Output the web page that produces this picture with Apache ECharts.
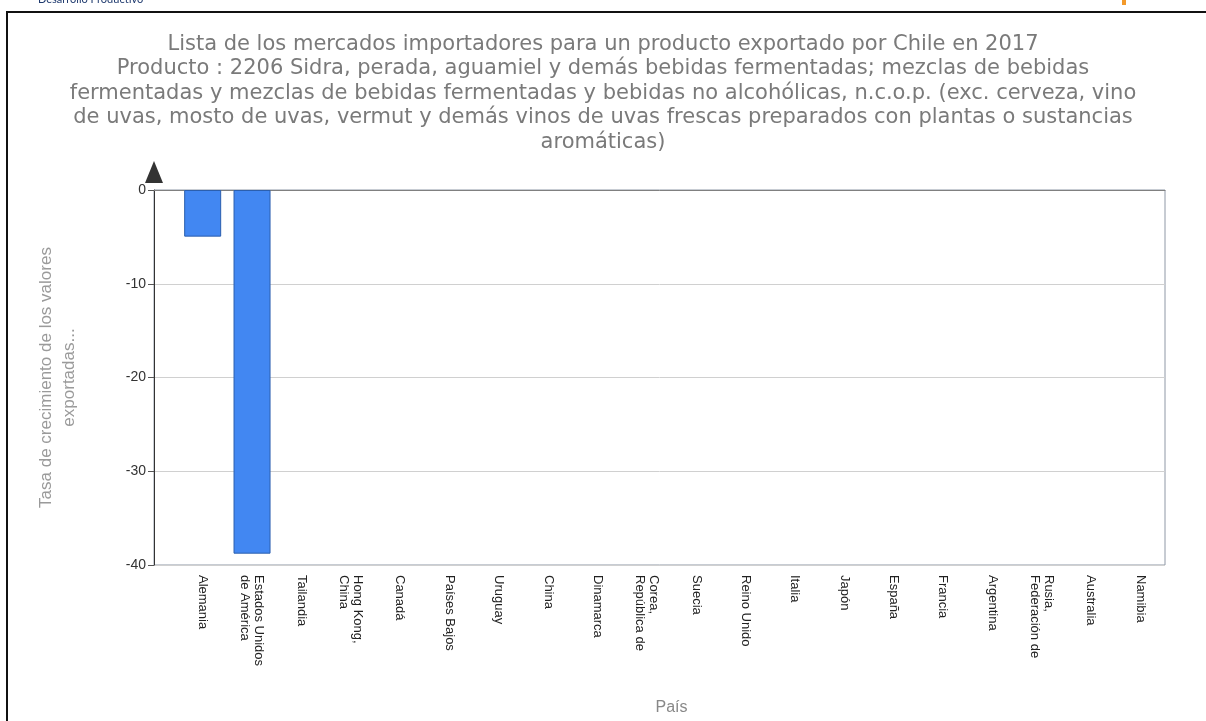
<!DOCTYPE html>
<html>
<head>
<meta charset="utf-8">
<script src="https://cdn.jsdelivr.net/npm/echarts@6/dist/echarts.min.js"></script>
<style>
  html, body { margin: 0; padding: 0; background: #fff; overflow: hidden; }
  #frame { position: absolute; left: 6px; top: 11px; width: 1300px; height: 800px; border: 2px solid #111; box-sizing: border-box; }
  #chart { position: absolute; left: 0; top: 0; width: 1206px; height: 721px; }
</style>
</head>
<body>
<div id="frame"></div>
<div id="chart"></div>
<script>
const titleLines = [
  "Lista de los mercados importadores para un producto exportado por Chile en 2017",
  "Producto : 2206 Sidra, perada, aguamiel y demás bebidas fermentadas; mezclas de bebidas",
  "fermentadas y mezclas de bebidas fermentadas y bebidas no alcohólicas, n.c.o.p. (exc. cerveza, vino",
  "de uvas, mosto de uvas, vermut y demás vinos de uvas frescas preparados con plantas o sustancias",
  "aromáticas)"
];
const categories = [
  "Alemania", "Estados Unidos\nde América", "Tailandia", "Hong Kong,\nChina", "Canadá",
  "Países Bajos", "Uruguay", "China", "Dinamarca", "Corea,\nRepública de",
  "Suecia", "Reino Unido", "Italia", "Japón", "España",
  "Francia", "Argentina", "Rusia,\nFederación de", "Australia", "Namibia"
];
const growthValues = [-5, -39, null, null, null, null, null, null, null, null,
                      null, null, null, null, null, null, null, null, null, null];
const yAxisName = "Tasa de crecimiento de los valores\nexportadas...";
const xAxisName = "País";

const chart = echarts.init(document.getElementById('chart'), null, { renderer: 'canvas' });
chart.setOption({
  backgroundColor: 'transparent',
  animation: false,
  title: {
    text: titleLines.join('\n'),
    left: 'center',
    top: 27,
    textStyle: {
      fontFamily: 'DejaVu Sans',
      fontSize: 21,
      fontWeight: 'normal',
      color: '#7a7a7a',
      lineHeight: 24.5
    }
  },
  graphic: [
    { type: 'text', left: 38, top: -6, style: { text: 'Desarrollo Productivo', font: '11px Lato', fill: '#1f3a6e' } },
    { type: 'rect', left: 1122, top: 0, shape: { width: 4, height: 5 }, style: { fill: '#f39a2b' } }
  ],
  grid: [
    { left: 154, right: 41, top: 190, bottom: 156,
      show: true, borderColor: '#8f98a6', borderWidth: 1, backgroundColor: 'transparent' },
    { left: 178, right: 41, top: 190, bottom: 156 }
  ],
  xAxis: [
    {
      gridIndex: 0,
      type: 'category',
      data: categories,
      axisLine: { show: true, lineStyle: { color: '#808080', width: 1 } },
      axisTick: { show: false },
      axisLabel: { show: false }
    },
    {
      gridIndex: 1,
      type: 'category',
      data: categories,
      name: xAxisName,
      nameLocation: 'middle',
      nameGap: 137,
      nameTextStyle: { fontFamily: 'Liberation Sans', fontSize: 16, color: '#888' },
      axisLine: { show: false },
      axisTick: { show: false },
      axisLabel: {
        rotate: -90,
        interval: 0,
        margin: 12,
        fontFamily: 'Liberation Sans',
        fontSize: 13,
        color: '#222',
        lineHeight: 14
      }
    }
  ],
  yAxis: [
    {
      gridIndex: 0,
      type: 'value',
      min: -40, max: 0, interval: 10,
      name: yAxisName,
      nameLocation: 'middle',
      nameGap: 73,
      nameTextStyle: { fontFamily: 'Liberation Sans', fontSize: 17, color: '#9a9a9a', lineHeight: 23 },
      axisLine: {
        show: true,
        lineStyle: { color: '#333', width: 1 },
        symbol: ['none', 'triangle'],
        symbolSize: [18, 22],
        symbolOffset: [0, 18]
      },
      axisTick: { show: true, length: 6, lineStyle: { color: '#555' } },
      axisLabel: { fontFamily: 'Liberation Sans', fontSize: 14, color: '#333', margin: 8 },
      splitLine: { show: true, lineStyle: { color: '#d0d0d0', width: 1 } }
    },
    {
      gridIndex: 1,
      type: 'value',
      min: -40, max: 0, interval: 10,
      show: false
    }
  ],
  series: [{
    type: 'bar',
    xAxisIndex: 1,
    yAxisIndex: 1,
    data: growthValues,
    barCategoryGap: '25%',
    itemStyle: { color: '#4287f2', borderColor: '#2b5fae', borderWidth: 1 }
  }]
});
</script>
</body>
</html>
